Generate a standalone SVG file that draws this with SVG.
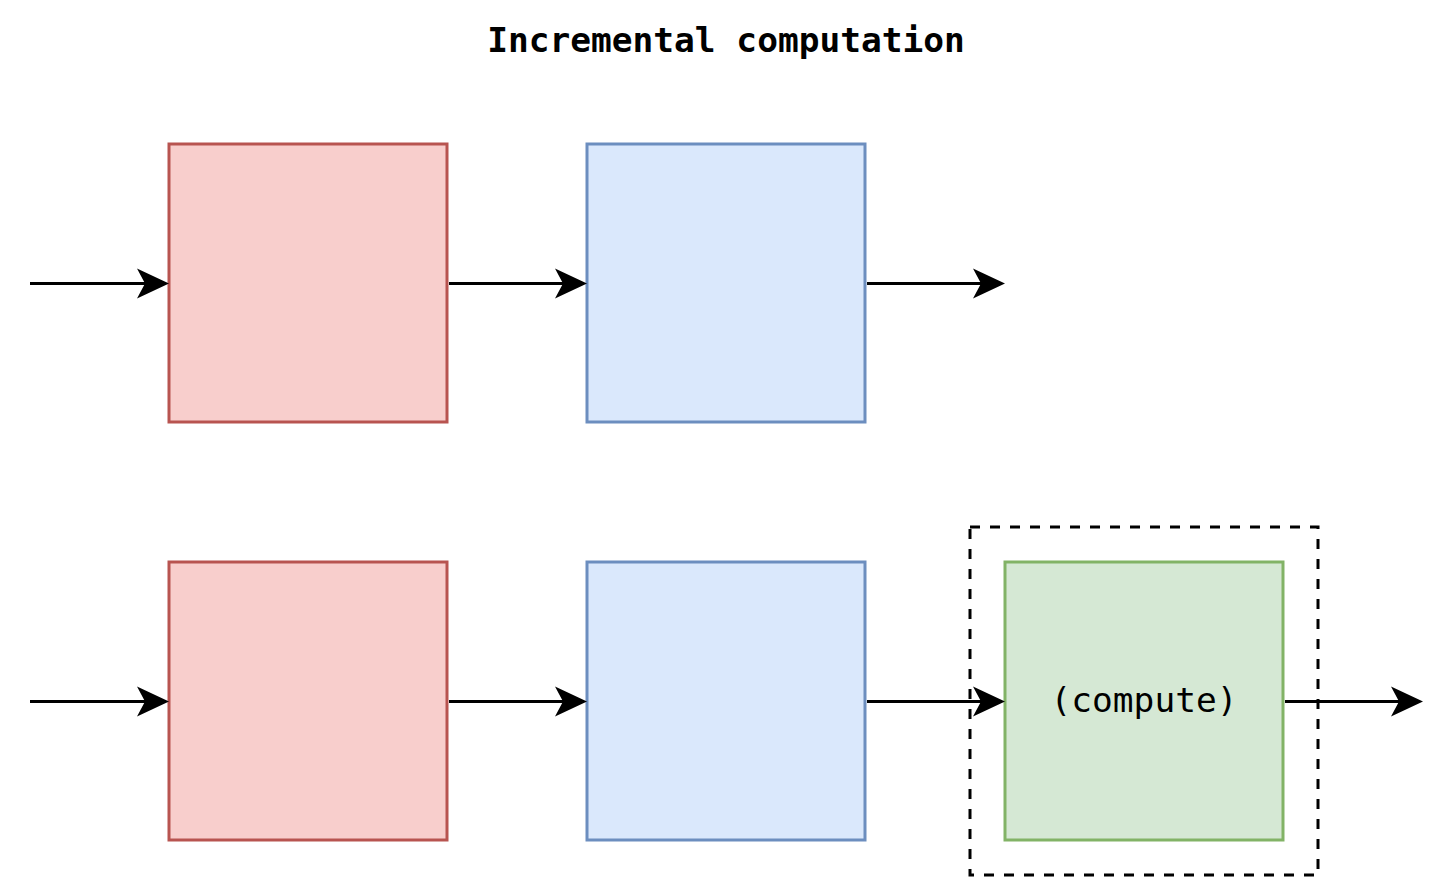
<svg xmlns="http://www.w3.org/2000/svg" width="1456" height="888" viewBox="0 0 1456 888">
<style>
.red{fill:#f8cecc;stroke:#b85450;stroke-width:3}
.blue{fill:#dae8fc;stroke:#6c8ebf;stroke-width:3}
.green{fill:#d5e8d4;stroke:#82b366;stroke-width:3}
.edge{stroke:#000;stroke-width:3;fill:none}
.t{font-family:"DejaVu Sans Mono","Liberation Mono",monospace;font-size:34.5px;fill:#000}
</style>
<defs>
<marker id="arr" viewBox="0 0 32 32" refX="8" refY="16" markerWidth="32" markerHeight="32" markerUnits="userSpaceOnUse" orient="auto">
<path d="M0,1 L32,16 L0,31 L8,16 Z" fill="#000"/>
</marker>
</defs>
<text class="t" x="726" y="52" text-anchor="middle" font-weight="bold">Incremental computation</text>
<g id="dashed-box"><rect x="970" y="527" width="348" height="348" fill="none" stroke="#000" stroke-width="3" stroke-dasharray="10,10"/></g>
<g id="red-top"><rect class="red" x="169" y="144" width="278" height="278"/></g>
<g id="blue-top"><rect class="blue" x="587" y="144" width="278" height="278"/></g>
<g id="red-bottom"><rect class="red" x="169" y="562" width="278" height="278"/></g>
<g id="blue-bottom"><rect class="blue" x="587" y="562" width="278" height="278"/></g>
<g id="green-compute"><rect class="green" x="1005" y="562" width="278" height="278"/>
<text class="t" x="1144" y="712" text-anchor="middle">(compute)</text></g>
<g id="connectors">
<line class="edge" x1="30" y1="283.5" x2="145" y2="283.5" marker-end="url(#arr)"/>
<line class="edge" x1="449" y1="283.5" x2="563" y2="283.5" marker-end="url(#arr)"/>
<line class="edge" x1="867" y1="283.5" x2="981" y2="283.5" marker-end="url(#arr)"/>
<line class="edge" x1="30" y1="701.5" x2="145" y2="701.5" marker-end="url(#arr)"/>
<line class="edge" x1="449" y1="701.5" x2="563" y2="701.5" marker-end="url(#arr)"/>
<line class="edge" x1="867" y1="701.5" x2="981" y2="701.5" marker-end="url(#arr)"/>
<line class="edge" x1="1285" y1="701.5" x2="1399" y2="701.5" marker-end="url(#arr)"/>
</g>
</svg>
